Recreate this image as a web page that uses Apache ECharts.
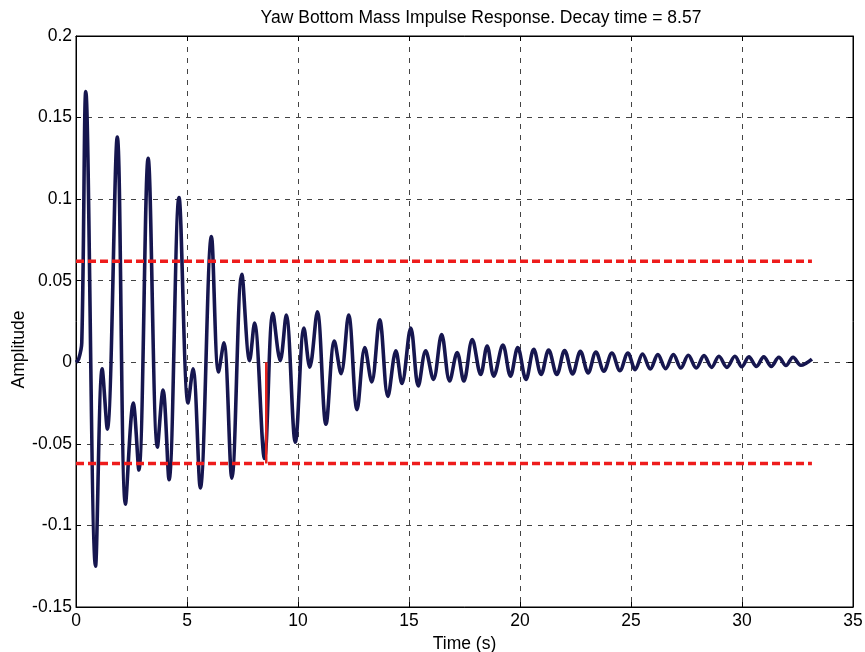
<!DOCTYPE html>
<html>
<head>
<meta charset="utf-8">
<title>Yaw Bottom Mass Impulse Response</title>
<script src="https://cdn.jsdelivr.net/npm/echarts@6/dist/echarts.min.js"></script>
<style>
  html, body { margin: 0; padding: 0; background: #fff; }
  #chart { width: 865px; height: 652px; }
</style>
</head>
<body>
<div id="chart"></div>
<script>
// Impulse response: turning points of the measured trace (time in s, amplitude)
const time = [
  0, 0.12, 0.26, 0.44, 0.88, 1.18, 1.41, 1.86, 2.23, 2.58, 2.83, 3.25, 3.67, 3.92, 4.19,
  4.64, 5.05, 5.27, 5.60, 6.10, 6.42, 6.66, 7.02, 7.47, 7.82, 8.04, 8.49, 8.87, 9.20,
  9.47, 9.88, 10.27, 10.53, 10.87, 11.26, 11.64, 11.94, 12.28, 12.66, 13.01, 13.32,
  13.68, 14.05, 14.41, 14.68, 15.08, 15.42, 15.75, 16.10, 16.47, 16.83, 17.17, 17.47,
  17.85, 18.23, 18.52, 18.82, 19.23, 19.57, 19.90, 20.27, 20.62, 20.95, 21.29, 21.66,
  22.01, 22.37, 22.72, 23.07, 23.42, 23.78, 24.14, 24.50, 24.86, 25.19, 25.52, 25.87,
  26.21, 26.56, 26.91, 27.25, 27.58, 27.94, 28.29, 28.63, 28.96, 29.32, 29.68, 29.99,
  30.31, 30.65, 30.98, 31.32, 31.66, 31.98, 32.30, 32.65, 33.15
];
const amplitude = [
  0, 0.002, 0.012, 0.166, -0.125, -0.004, -0.041, 0.138, -0.087, -0.025, -0.066, 0.125, -0.052, -0.017, -0.072,
  0.101, -0.025, -0.004, -0.077, 0.077, -0.006, 0.012, -0.071, 0.054, 0.001, 0.024, -0.059, 0.030, 0.001,
  0.029, -0.049, 0.021, -0.003, 0.031, -0.038, 0.013, -0.007, 0.029, -0.029, 0.009, -0.012,
  0.026, -0.021, 0.007, -0.013, 0.021, -0.0145, 0.007, -0.0105, 0.017, -0.0115, 0.006, -0.0115,
  0.014, -0.0075, 0.010, -0.0085, 0.0105, -0.0085, 0.009, -0.0105, 0.008, -0.0075, 0.0075, -0.0075,
  0.0072, -0.0071, 0.0067, -0.0065, 0.0063, -0.0055, 0.0057, -0.0051, 0.0057, -0.0045, 0.0051, -0.0041,
  0.0047, -0.0039, 0.0047, -0.0035, 0.0043, -0.0035, 0.0041, -0.0031, 0.0037, -0.0031, 0.0037, -0.0027,
  0.0033, -0.0025, 0.0033, -0.0025, 0.0031, -0.0020, 0.0031, -0.0018, 0.002
];

// Decay envelope threshold and the time it is first crossed
const threshold = 0.062;
const decayTime = 8.57;
const thresholdEnd = 33.15;

// Axis ticks
const xTicks = [0, 5, 10, 15, 20, 25, 30, 35];
const yTicks = [-0.15, -0.1, -0.05, 0, 0.05, 0.1, 0.15, 0.2];

const responseData = time.map((t, i) => [t, amplitude[i]]);
const upperLine = [[0, threshold], [thresholdEnd, threshold]];
const lowerLine = [[0, -threshold], [thresholdEnd, -threshold]];
const decayMarker = [[decayTime, 0], [decayTime, -threshold]];

const FONT = 'Liberation Sans, Arial, sans-serif';
const FS = 17.5;
const gridLine = { show: true, lineStyle: { color: '#444', width: 1, type: [5, 6] } };
const frameTick = { show: true, inside: true, length: 5, lineStyle: { color: '#000' } };

const chart = echarts.init(document.getElementById('chart'), null, { renderer: 'canvas' });
chart.setOption({
  animation: false,
  backgroundColor: '#fff',
  title: {
    text: 'Yaw Bottom Mass Impulse Response. Decay time = ' + decayTime,
    left: 476, top: 4, textAlign: 'center',
    textStyle: { fontFamily: FONT, fontSize: FS, fontWeight: 'normal', color: '#000' }
  },
  grid: {
    left: 76, right: 12, top: 36, bottom: 45, containLabel: false, outerBoundsMode: 'none',
    show: true, borderColor: '#000', borderWidth: 1
  },
  xAxis: [{
    type: 'value', min: xTicks[0], max: xTicks[xTicks.length - 1], interval: 5,
    name: 'Time (s)', nameLocation: 'middle', nameGap: 25,
    nameTextStyle: { fontFamily: FONT, fontSize: FS, color: '#000' },
    axisLine: { show: true, onZero: false, lineStyle: { color: '#000', width: 1 } },
    axisTick: frameTick,
    axisLabel: { fontFamily: FONT, fontSize: FS, color: '#000', margin: 5 },
    splitLine: gridLine
  }, {
    type: 'value', position: 'top', min: xTicks[0], max: xTicks[xTicks.length - 1], interval: 5,
    axisLine: { show: true, onZero: false, lineStyle: { color: '#000' } },
    axisTick: frameTick,
    axisLabel: { show: false }, splitLine: { show: false }
  }],
  yAxis: [{
    type: 'value', min: yTicks[0], max: yTicks[yTicks.length - 1], interval: 0.05,
    name: 'Amplitude', nameLocation: 'middle', nameGap: 48, nameRotate: 90, nameMoveOverlap: false,
    nameTextStyle: { fontFamily: FONT, fontSize: FS, color: '#000', padding: [0, 56, 0, 0] },
    axisLine: { show: true, onZero: false, lineStyle: { color: '#000', width: 1 } },
    axisTick: frameTick,
    axisLabel: {
      fontFamily: FONT, fontSize: FS, color: '#000', margin: 4,
      formatter: v => String(parseFloat(v.toFixed(2)))
    },
    splitLine: gridLine
  }, {
    type: 'value', position: 'right', min: yTicks[0], max: yTicks[yTicks.length - 1], interval: 0.05,
    axisLine: { show: true, onZero: false, lineStyle: { color: '#000' } },
    axisTick: frameTick,
    axisLabel: { show: false }, splitLine: { show: false }
  }],
  series: [{
    type: 'line', data: responseData, smooth: 0.35, showSymbol: false, symbol: 'none',
    lineStyle: { color: '#16164f', width: 3.6 }, z: 3
  }, {
    type: 'line', data: upperLine, showSymbol: false, symbol: 'none',
    lineStyle: { color: '#ee1c1c', width: 3.5, type: [8, 4] }, z: 4
  }, {
    type: 'line', data: lowerLine, showSymbol: false, symbol: 'none',
    lineStyle: { color: '#ee1c1c', width: 3.5, type: [8, 4] }, z: 4
  }, {
    type: 'line', data: decayMarker, showSymbol: false, symbol: 'none',
    lineStyle: { color: '#e3221c', width: 2.5 }, z: 4
  }]
});
</script>
</body>
</html>
